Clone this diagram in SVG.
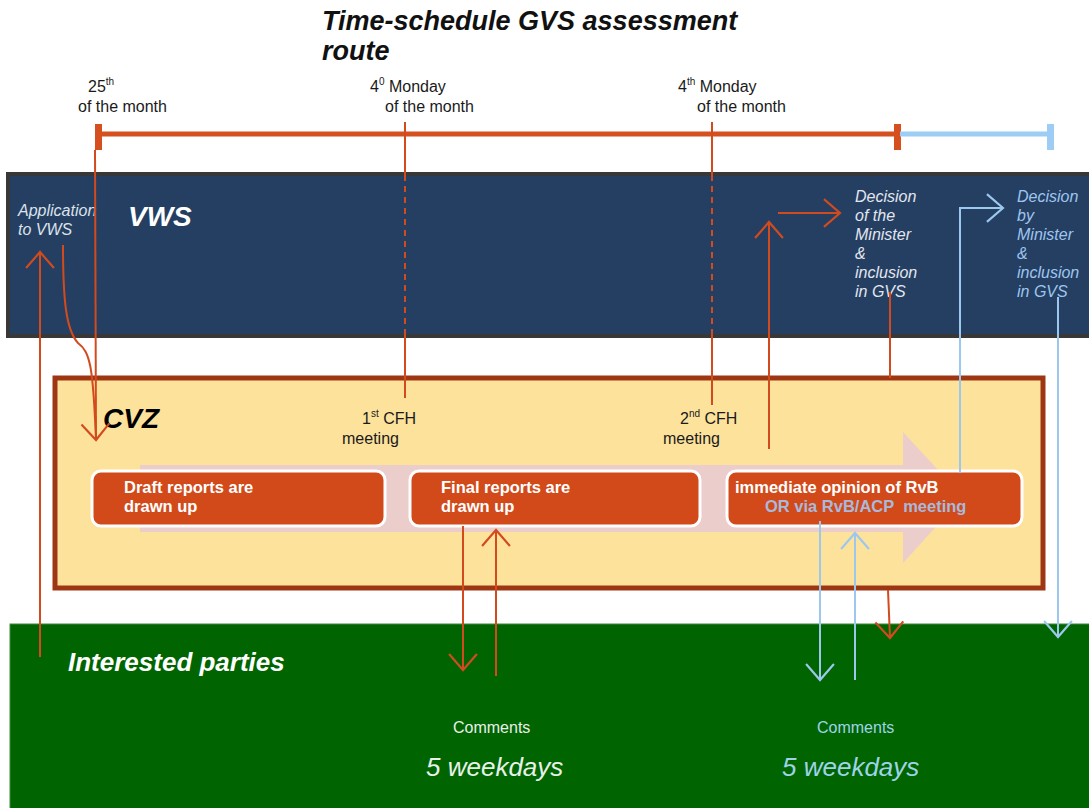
<svg xmlns="http://www.w3.org/2000/svg" width="1089" height="808" viewBox="0 0 1089 808">
<defs>
<marker id="ao" markerUnits="userSpaceOnUse" markerWidth="20" markerHeight="30" viewBox="0 0 18 28" refX="16" refY="14" orient="auto"><path d="M1,1 L16,14 L1,27" fill="none" stroke="#D24B1E" stroke-width="2"/></marker>
<marker id="ab" markerUnits="userSpaceOnUse" markerWidth="20" markerHeight="30" viewBox="0 0 18 28" refX="16" refY="14" orient="auto"><path d="M1,1 L16,14 L1,27" fill="none" stroke="#9DC8EE" stroke-width="2"/></marker>
</defs>
<style>
text{font-family:"Liberation Sans",Arial,sans-serif}
.hd{font-size:16px;fill:#1a1a1a}
.ttl{font-size:27px;font-weight:bold;font-style:italic;fill:#111}
.big{font-size:28px;font-weight:bold;font-style:italic}
.box{fill:#D24A1A;stroke:#fff;stroke-width:3}
.bt{font-size:16.5px;font-weight:bold;fill:#fff}
.dec{font-size:16px;font-style:italic}
.o{stroke:#D24B1E;stroke-width:2;fill:none}
.b{stroke:#9DC8EE;stroke-width:2;fill:none}
.dash{stroke-dasharray:6 5}
</style>
<rect width="1089" height="808" fill="#fff"/>

<g id="title">
<text class="ttl" x="322" y="30">Time-schedule GVS assessment</text>
<text class="ttl" x="322" y="60">route</text>
</g>

<g id="timeline">
<text class="hd" x="88" y="92">25<tspan font-size="10" dy="-7">th</tspan></text>
<text class="hd" x="78" y="112">of the month</text>
<text class="hd" x="370" y="92">4<tspan font-size="10" dy="-7">0</tspan><tspan dy="7"> Monday</tspan></text>
<text class="hd" x="385" y="112">of the month</text>
<text class="hd" x="678" y="92">4<tspan font-size="10" dy="-7">th</tspan><tspan dy="7"> Monday</tspan></text>
<text class="hd" x="697" y="112">of the month</text>
<line x1="98" y1="134" x2="898" y2="134" stroke="#D5501E" stroke-width="5"/>
<rect x="95" y="124" width="7" height="26" fill="#D5501E"/>
<rect x="894" y="124" width="7" height="26" fill="#D5501E"/>
<line x1="900" y1="134" x2="1050" y2="134" stroke="#9DCDF5" stroke-width="5"/>
<rect x="1047" y="124" width="7" height="26" fill="#9DCDF5"/>
</g>

<g id="vws">
<rect x="8" y="174" width="1090" height="162" fill="#243F62" stroke="#383838" stroke-width="4"/>
<text class="big" x="128" y="226" fill="#fff">VWS</text>
<text class="dec" x="18" y="216" fill="#dde2ea" font-size="15">Application</text>
<text class="dec" x="18" y="235" fill="#dde2ea" font-size="15">to VWS</text>
<text class="dec" fill="#e3e6ee"><tspan x="855" y="202">Decision</tspan><tspan x="855" y="221">of the</tspan><tspan x="855" y="240">Minister</tspan><tspan x="855" y="259">&amp;</tspan><tspan x="855" y="278">inclusion</tspan><tspan x="855" y="297">in GVS</tspan></text>
<text class="dec" fill="#9FC5EF"><tspan x="1017" y="202">Decision</tspan><tspan x="1017" y="221">by</tspan><tspan x="1017" y="240">Minister</tspan><tspan x="1017" y="259">&amp;</tspan><tspan x="1017" y="278">inclusion</tspan><tspan x="1017" y="297">in GVS</tspan></text>
</g>

<g id="cvz">
<rect x="55" y="378" width="988" height="210" fill="#FDE29C" stroke="#9E3614" stroke-width="5"/>
<text class="big" x="103" y="428" fill="#000">CVZ</text>
<text class="hd" x="362" y="424">1<tspan font-size="10" dy="-7">st</tspan><tspan dy="7"> CFH</tspan></text>
<text class="hd" x="342" y="444">meeting</text>
<text class="hd" x="680" y="424">2<tspan font-size="10" dy="-7">nd</tspan><tspan dy="7"> CFH</tspan></text>
<text class="hd" x="663" y="444">meeting</text>
<path d="M140,465 L903,465 L903,432 L963,497 L903,563 L903,532 L140,532 Z" fill="#EBCDCB"/>
</g>

<g id="draft">
<rect class="box" x="92" y="471" width="293" height="55" rx="9"/>
<text class="bt" x="124" y="493">Draft reports are</text>
<text class="bt" x="124" y="512">drawn up</text>
</g>
<g id="final">
<rect class="box" x="410" y="471" width="290" height="55" rx="9"/>
<text class="bt" x="441" y="493">Final reports are</text>
<text class="bt" x="441" y="512">drawn up</text>
</g>
<g id="opinion">
<rect class="box" x="727" y="471" width="295" height="55" rx="9"/>
<text class="bt" x="735" y="493">immediate opinion of RvB</text>
<text class="bt" x="765" y="512" style="fill:#A9B9DA" xml:space="preserve">OR via RvB/ACP  meeting</text>
</g>

<g id="parties">
<rect x="10" y="624" width="1085" height="190" fill="#006400" stroke="#3f8a3f" stroke-width="1"/>
<text x="68" y="671" font-size="26" font-weight="bold" font-style="italic" fill="#fff">Interested parties</text>
<text x="453" y="733" font-size="16" fill="#e8f0e8">Comments</text>
<text x="426" y="776" font-size="26" font-style="italic" fill="#e8f0e8">5 weekdays</text>
<text x="817" y="733" font-size="16" fill="#9FD3E8">Comments</text>
<text x="782" y="776" font-size="26" font-style="italic" fill="#9FD3E8">5 weekdays</text>
</g>

<g id="connectors">
<line class="o" x1="405" y1="122" x2="405" y2="175"/>
<line class="o dash" x1="405" y1="175" x2="405" y2="335"/>
<line class="o" x1="405" y1="335" x2="405" y2="398"/>
<line class="o" x1="712" y1="122" x2="712" y2="175"/>
<line class="o dash" x1="712" y1="175" x2="712" y2="335"/>
<line class="o" x1="712" y1="335" x2="712" y2="405"/>
<line class="o" x1="95" y1="150" x2="96" y2="438"/>
<path class="o" d="M63,245 C63,300 66,330 78,343 C90,352 93,365 96,440" marker-end="url(#ao)"/>
<line class="o" x1="40" y1="657" x2="40" y2="252" marker-end="url(#ao)"/>
<line class="o" x1="463" y1="526" x2="463" y2="670" marker-end="url(#ao)"/>
<line class="o" x1="496" y1="676" x2="496" y2="530" marker-end="url(#ao)"/>
<line class="b" x1="820" y1="521" x2="820" y2="680" marker-end="url(#ab)"/>
<line class="b" x1="855" y1="680" x2="855" y2="533" marker-end="url(#ab)"/>
<line class="o" x1="888" y1="590" x2="890" y2="638" marker-end="url(#ao)"/>
<line class="b" x1="1058" y1="297" x2="1058" y2="637" marker-end="url(#ab)"/>
<line class="o" x1="890" y1="292" x2="890" y2="378"/>
<line class="o" x1="769" y1="449" x2="769" y2="222" marker-end="url(#ao)"/>
<line class="o" x1="778" y1="213" x2="840" y2="213" marker-end="url(#ao)"/>
<polyline class="b" points="960,473 960,208 1003,208" marker-end="url(#ab)"/>
</g>
</svg>
